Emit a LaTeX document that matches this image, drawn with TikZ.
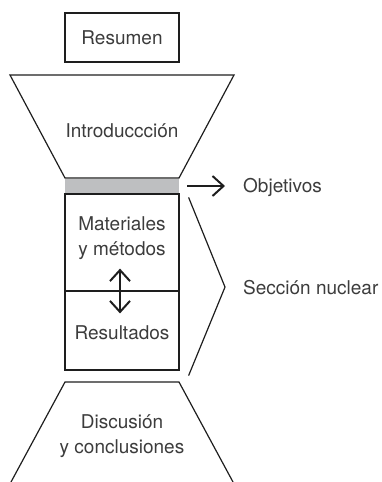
\documentclass[tikz,border=0pt]{standalone}
\usepackage{fontspec}
\setmainfont{TeX Gyre Heros}
\usetikzlibrary{arrows.meta, positioning}
\definecolor{bargray}{RGB}{190,191,193}
\definecolor{textgray}{RGB}{60,60,60}
\definecolor{linegray}{RGB}{30,30,30}

\begin{document}
\begin{tikzpicture}[x=1pt, y=-1pt,
        basic/.style   = {text=textgray, font=\fontsize{19}{25}\selectfont, align=center, inner sep=0pt},
        label/.style   = {basic, anchor=base west},
        part/.style    = {basic, anchor=base},
        box/.style     = {draw=linegray, line width=1.2pt, minimum width=114pt, inner sep=0pt},
        outline/.style = {draw=linegray, line width=1.2pt, line join=miter},
        >={Straight Barb[length=11pt, width=20pt, line width=2pt]}]

    \useasboundingbox (0,0) rectangle (382,482);

    % the top box
    \node[box, basic, minimum height=49pt] (res) at (122,37.5) {Resumen};

    % the introduction funnel and the objectives bar below it
    \draw[outline] (10,75) -- (234,75) -- (179,178) -- (65,178) -- cycle;
    \node[part] (intro) at (122,137) {Introduccción};
    \node[fill=bargray, minimum width=114pt, minimum height=15pt, inner sep=0pt] (bar) at (122,186) {};

    % the nuclear section, two boxes on top of each other
    \node[box, minimum height=97pt] (metbox) at (122,242.5) {};
    \node[box, minimum height=79pt] (resbox) at (122,330.5) {};
    \node[part] (met) at (122,255) {Materiales \\ y métodos};
    \node[part] (resul) at (122,339) {Resultados};

    % the discussion funnel, open at the bottom
    \draw[outline] (11,482) -- (65,382) -- (179,382) -- (233,482);
    \node[part] (disc) at (122,453) {Discusión \\ y conclusiones};

    % labels on the right
    \node[label] (obj) at (243,192.5) {Objetivos};
    \node[label] (nuc) at (243,294) {Sección nuclear};

    % arrows
    \draw[->, linegray, line width=1.5pt] ([xshift=8pt]bar.east) -- ([xshift=-18pt]bar.east -| obj.west);
    \draw[<->, linegray, line width=1.5pt] ([xshift=-2pt, yshift=23pt]metbox.south) -- ([xshift=-2pt, yshift=-23pt]resbox.north);

    % bracket round the nuclear section
    \coordinate (btop) at ([xshift=9pt, yshift=-4pt]metbox.north east);
    \coordinate (btip) at ([xshift=-18pt]nuc.west);
    \coordinate (bbot) at ([xshift=9pt, yshift=-5pt]resbox.south east);
    \draw[outline] (btop) -- (btip) -- (bbot);

\end{tikzpicture}
\end{document}
